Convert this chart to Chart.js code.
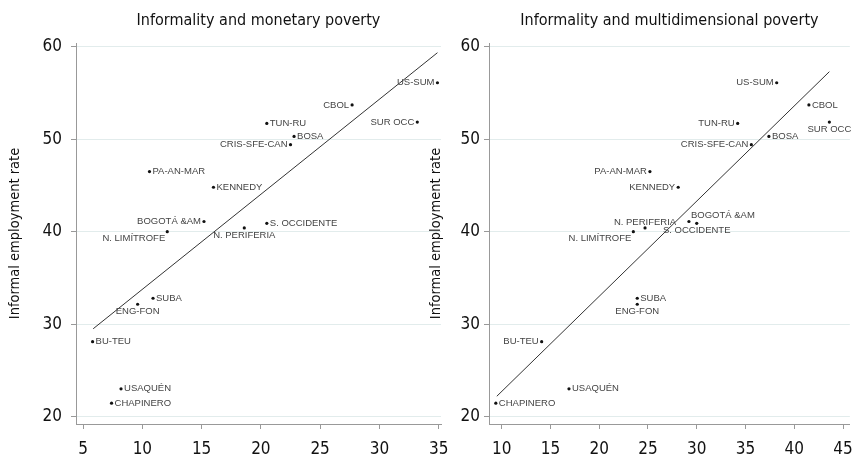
<!DOCTYPE html>
<html>
<head>
<meta charset="utf-8">
<script src="https://cdn.jsdelivr.net/npm/chart.js@4.4.1/dist/chart.umd.min.js"></script>
<style>
  html, body { margin: 0; padding: 0; background: #fff; }
  #wrap { position: relative; width: 863px; height: 464px; }
  #wrap canvas { position: absolute; left: 0; top: 0; width: 863px; height: 464px; }
</style>
</head>
<body>
<div id="wrap">
  <canvas id="monetaryChart" width="863" height="464"></canvas>
  <canvas id="multiChart" width="863" height="464"></canvas>
</div>
<script>
// Localities of Bogotá
const localities = ['US-SUM', 'CBOL', 'SUR OCC', 'TUN-RU', 'BOSA', 'CRIS-SFE-CAN', 'PA-AN-MAR', 'KENNEDY',
  'BOGOTÁ &AM', 'N. LIMÍTROFE', 'S. OCCIDENTE', 'N. PERIFERIA', 'SUBA', 'ENG-FON', 'BU-TEU', 'USAQUÉN', 'CHAPINERO'];

// informal employment rate (%)
const informalRate = [56.1, 53.7, 51.85, 51.7, 50.3, 49.4, 46.5, 44.8, 41.1, 40.0, 40.9, 40.4, 32.8, 32.15, 28.1, 23.0, 21.45];
// monetary poverty (%)
const monetaryPoverty = [34.9, 27.7, 33.2, 20.5, 22.8, 22.5, 10.6, 16.0, 15.2, 12.1, 20.5, 18.6, 10.9, 9.6, 5.8, 8.2, 7.4];
// multidimensional poverty (%)
const multiPoverty = [38.2, 41.5, 43.6, 34.2, 37.4, 35.6, 25.2, 28.1, 29.2, 23.5, 30.0, 24.7, 23.9, 23.9, 14.1, 16.9, 9.4];

// fitted lines (end points)
const fitMonetaryX = [5.85, 34.9];
const fitMonetaryY = [29.5, 59.35];
const fitMultiX = [9.5, 43.6];
const fitMultiY = [22.2, 57.3];

const yTicks = [20, 30, 40, 50, 60];
const xTicksMonetary = [5, 10, 15, 20, 25, 30, 35];
const xTicksMulti = [10, 15, 20, 25, 30, 35, 40, 45];

// marker label placement: l, r, b, t, bl, tr
const placeMonetary = ['l', 'l', 'l', 'r', 'r', 'l', 'r', 'r', 'l', 'bl', 'r', 'b', 'r', 'b', 'r', 'r', 'r'];
const placeMulti = ['l', 'r', 'b', 'l', 'r', 'l', 'l', 'l', 'tr', 'bl', 'b', 't', 'r', 'b', 'l', 'r', 'r'];

const condensed = "'Liberation Sans Narrow', 'DejaVu Sans Condensed', 'Roboto', sans-serif";

const pointLabels = {
  id: 'pointLabels',
  afterDatasetsDraw(chart, args, opts) {
    const ctx = chart.ctx;
    const meta = chart.getDatasetMeta(0);
    ctx.save();
    ctx.font = "9.5px 'Liberation Sans', Arial, sans-serif";
    ctx.fillStyle = '#444';
    meta.data.forEach((pt, i) => {
      const name = opts.names[i];
      const p = opts.place[i];
      let x = pt.x, y = pt.y;
      ctx.textBaseline = 'middle';
      if (p === 'l') { ctx.textAlign = 'right'; x -= 3; }
      else if (p === 'r') { ctx.textAlign = 'left'; x += 3; }
      else if (p === 'b') { ctx.textAlign = 'center'; y += 7.5; }
      else if (p === 't') { ctx.textAlign = 'center'; y -= 6; }
      else if (p === 'bl') { ctx.textAlign = 'right'; x -= 2; y += 7; }
      else if (p === 'tr') { ctx.textAlign = 'left'; x += 2; y -= 6; }
      ctx.fillText(name, x, y);
    });
    ctx.restore();
  }
};

function makeChart(id, title, xVals, fitX, fitY, xTicks, xMin, xMax, place, padLeft, padRight, yWidth, yTickPad) {
  const points = xVals.map((x, i) => ({ x: x, y: informalRate[i] }));
  const fit = fitX.map((x, i) => ({ x: x, y: fitY[i] }));
  return new Chart(document.getElementById(id), {
    type: 'scatter',
    data: {
      datasets: [{
        data: points,
        pointRadius: 1.6,
        pointBackgroundColor: '#111',
        pointBorderWidth: 0
      }, {
        type: 'line',
        data: fit,
        borderColor: '#333',
        borderWidth: 1,
        pointRadius: 0,
        fill: false
      }]
    },
    options: {
      responsive: false,
      animation: false,
      layout: { padding: { left: padLeft, right: padRight, top: 0, bottom: 0 } },
      plugins: {
        legend: { display: false },
        tooltip: { enabled: false },
        title: {
          display: true,
          text: title,
          fullSize: false,
          color: '#111',
          font: { family: condensed, size: 16, weight: 'normal', lineHeight: 1.2 },
          padding: { top: 11.5, bottom: 12.3 }
        },
        pointLabels: { names: localities, place: place }
      },
      scales: {
        x: {
          type: 'linear',
          min: xMin,
          max: xMax,
          afterBuildTicks: s => { s.ticks = xTicks.map(v => ({ value: v })); },
          afterFit: s => { s.height = 40; },
          grid: { drawOnChartArea: false, tickLength: 5, tickColor: '#999' },
          border: { color: '#999', width: 1 },
          ticks: { color: '#111', padding: 10, font: { family: condensed, size: 17 } }
        },
        y: {
          type: 'linear',
          min: 19.2,
          max: 60.4,
          afterBuildTicks: s => { s.ticks = yTicks.map(v => ({ value: v })); },
          afterFit: s => { s.width = yWidth; },
          grid: { color: '#e2ecec', tickLength: 5, tickColor: '#999' },
          border: { color: '#999', width: 1 },
          ticks: { color: '#111', padding: yTickPad, font: { family: condensed, size: 17 } },
          title: {
            display: true,
            text: 'Informal employment rate',
            color: '#111',
            font: { family: condensed, size: 14.5, lineHeight: 1.2 },
            padding: { top: 7, bottom: 0 }
          }
        }
      }
    },
    plugins: [pointLabels]
  });
}

makeChart('monetaryChart', 'Informality and monetary poverty', monetaryPoverty, fitMonetaryX, fitMonetaryY,
  xTicksMonetary, 4.4, 35.2, placeMonetary, 0, 422, 76, 9);
makeChart('multiChart', 'Informality and multidimensional poverty', multiPoverty, fitMultiX, fitMultiY,
  xTicksMulti, 8.7, 45.7, placeMulti, 421, 3, 68, 4);
</script>
</body>
</html>
